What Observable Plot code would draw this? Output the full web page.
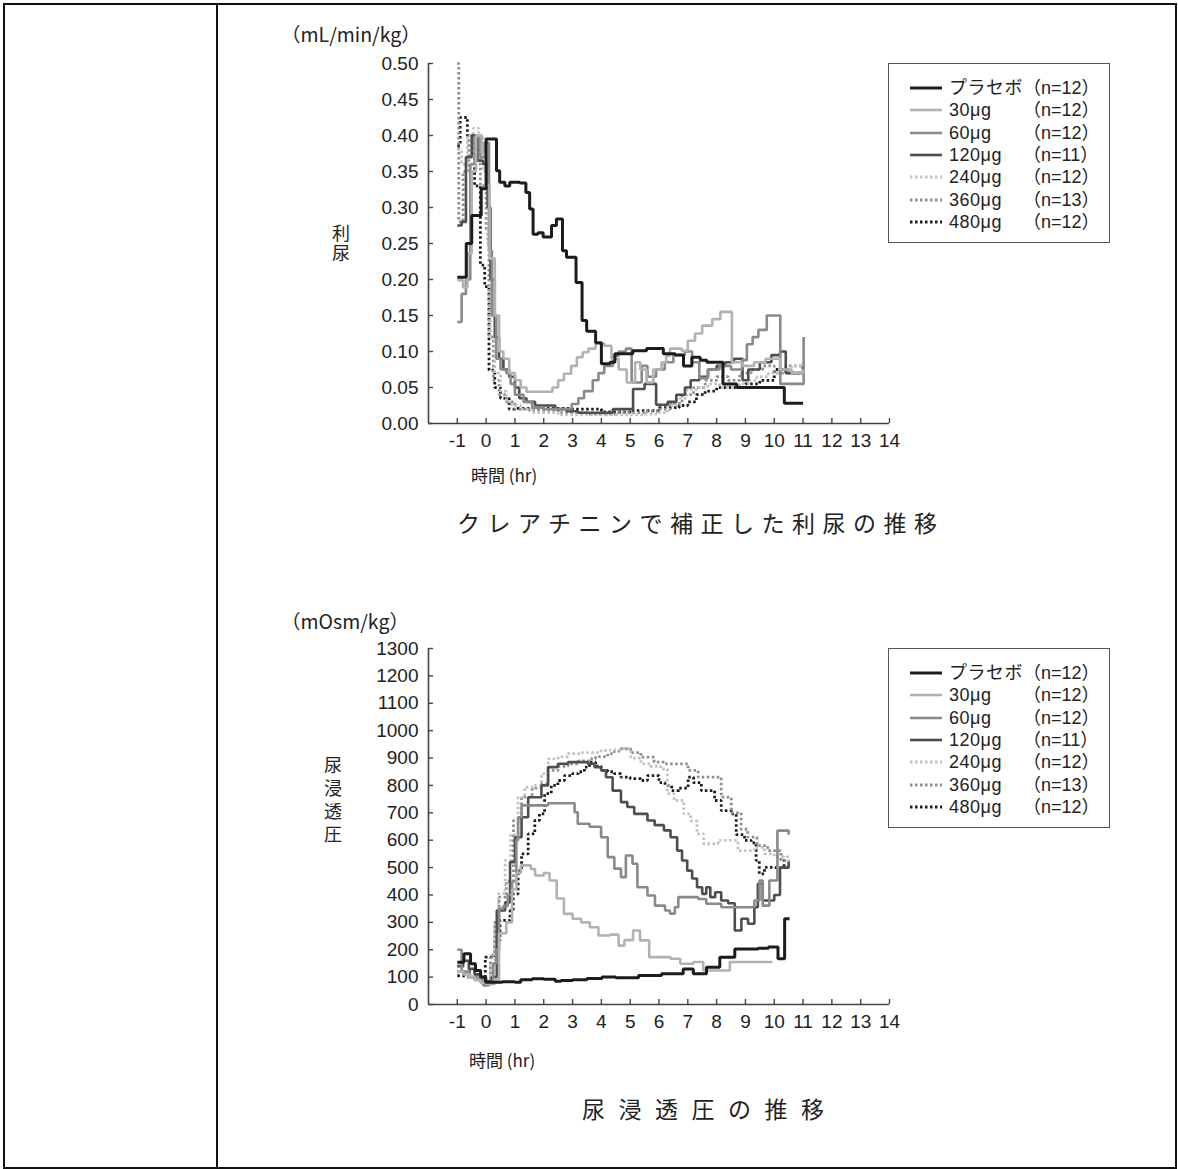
<!DOCTYPE html>
<html><head><meta charset="utf-8">
<script src="https://cdn.jsdelivr.net/npm/d3@7"></script>
<script src="https://cdn.jsdelivr.net/npm/@observablehq/plot@0.6"></script>
<style>
body{margin:0;background:#fff;}
#page{position:relative;width:1178px;height:1169px;overflow:hidden;font-family:"Noto Sans CJK JP","Noto Sans",sans-serif;color:#222;background:#fff;}
.abs{position:absolute;white-space:nowrap;}
.legend{position:absolute;border:1.5px solid #555;background:#fff;}
.lrow{position:absolute;left:0;height:20px;line-height:20px;font-size:18px;color:#222;font-family:"Liberation Sans","Noto Sans CJK JP",sans-serif;}
.lrow svg{position:absolute;left:21px;top:7px;}
.lrow .lab{position:absolute;left:60px;letter-spacing:0.5px;white-space:nowrap;}
.lrow .n{position:absolute;left:134px;font-size:18px;white-space:nowrap;}
</style></head><body><div id="page"></div>
<script>
// ---------- data ----------
const seriesNames = ["プラセボ", "30μg", "60μg", "120μg", "240μg", "360μg", "480μg"];
const seriesN = ["（n=12）", "（n=12）", "（n=12）", "（n=11）", "（n=12）", "（n=13）", "（n=12）"];
const xTicks = [-1,0,1,2,3,4,5,6,7,8,9,10,11,12,13,14];
const yTicks1 = [0,0.05,0.10,0.15,0.20,0.25,0.30,0.35,0.40,0.45,0.50];
const yTicks2 = [0,100,200,300,400,500,600,700,800,900,1000,1100,1200,1300];

// Chart 1: creatinine-corrected diuresis (mL/min/kg), [hour, value]
const diuPlacebo = [[-1.0,0.203],[-0.69,0.25],[-0.5,0.289],[-0.17,0.326],[0.0,0.395],[0.36,0.351],[0.47,0.335],[0.65,0.33],[0.82,0.335],[1.17,0.334],[1.38,0.321],[1.51,0.298],[1.63,0.263],[1.8,0.265],[1.98,0.259],[2.27,0.275],[2.44,0.284],[2.65,0.24],[2.79,0.231],[3.12,0.196],[3.33,0.143],[3.49,0.128],[3.8,0.112],[4.0,0.083],[4.3,0.085],[4.47,0.097],[5.09,0.101],[5.57,0.104],[6.15,0.097],[6.56,0.095],[6.85,0.08],[7.14,0.092],[7.43,0.088],[7.66,0.085],[8.22,0.055],[8.7,0.05],[10.35,0.028],[11.0,0.028]];
const diu30 = [[-1.0,0.199],[-0.8,0.189],[-0.65,0.236],[-0.5,0.35],[-0.35,0.40],[-0.15,0.375],[0.0,0.33],[0.12,0.229],[0.3,0.15],[0.45,0.1],[0.6,0.09],[0.8,0.07],[1.0,0.06],[1.2,0.05],[1.4,0.044],[2.3,0.05],[2.5,0.06],[2.7,0.069],[2.95,0.08],[3.15,0.092],[3.35,0.099],[3.55,0.104],[3.8,0.111],[4.1,0.108],[4.35,0.09],[4.6,0.075],[4.88,0.057],[5.17,0.085],[5.35,0.075],[5.57,0.057],[5.8,0.075],[6.09,0.085],[6.25,0.094],[6.38,0.104],[6.79,0.101],[7.0,0.115],[7.25,0.125],[7.5,0.136],[7.85,0.145],[8.13,0.155],[8.53,0.085],[8.9,0.08],[9.3,0.085],[9.7,0.09],[10.2,0.075],[10.6,0.07],[11.0,0.075]];
const diu60 = [[-1.0,0.141],[-0.85,0.18],[-0.7,0.2],[-0.55,0.36],[-0.4,0.398],[-0.2,0.37],[-0.05,0.39],[0.1,0.24],[0.2,0.15],[0.35,0.09],[0.5,0.075],[0.7,0.07],[0.85,0.055],[1.0,0.04],[1.3,0.03],[1.6,0.022],[2.0,0.02],[2.97,0.027],[3.2,0.035],[3.4,0.045],[3.7,0.06],[3.9,0.07],[4.1,0.08],[4.4,0.094],[4.6,0.1],[4.85,0.104],[5.05,0.057],[5.4,0.08],[5.6,0.065],[5.9,0.075],[6.2,0.085],[6.5,0.095],[6.9,0.1],[7.15,0.085],[7.4,0.063],[7.7,0.075],[8.1,0.08],[8.5,0.075],[8.88,0.088],[9.05,0.11],[9.25,0.12],[9.45,0.13],[9.74,0.15],[10.21,0.055],[11.02,0.12]];
const diu120 = [[-1.0,0.275],[-0.85,0.28],[-0.7,0.37],[-0.5,0.40],[-0.3,0.365],[-0.1,0.36],[0.05,0.3],[0.15,0.2],[0.3,0.12],[0.45,0.09],[0.6,0.075],[0.8,0.065],[1.0,0.05],[1.15,0.035],[1.4,0.03],[1.7,0.025],[2.0,0.025],[2.4,0.02],[2.8,0.017],[3.2,0.015],[4.4,0.02],[5.1,0.048],[5.5,0.055],[5.9,0.026],[6.3,0.03],[6.6,0.04],[6.9,0.05],[7.1,0.06],[7.4,0.065],[7.7,0.075],[8.0,0.08],[8.3,0.085],[8.6,0.09],[8.9,0.06],[9.1,0.075],[9.5,0.085],[9.9,0.095],[10.2,0.1],[10.4,0.07],[11.0,0.08]];
const diu240 = [[-1.0,0.38],[-0.85,0.36],[-0.65,0.40],[-0.45,0.41],[-0.25,0.40],[-0.1,0.35],[0.05,0.25],[0.15,0.12],[0.3,0.07],[0.5,0.045],[0.7,0.03],[0.9,0.025],[1.2,0.02],[1.6,0.015],[2.5,0.012],[3.5,0.012],[4.5,0.012],[5.5,0.013],[6.0,0.015],[6.3,0.025],[6.6,0.035],[6.97,0.047],[7.3,0.05],[7.7,0.055],[8.1,0.05],[8.5,0.05],[8.8,0.055],[9.1,0.06],[9.4,0.065],[9.8,0.07],[10.2,0.075],[10.6,0.08],[11.0,0.085]];
const diu360 = [[-1.0,0.50],[-0.95,0.28],[-0.8,0.35],[-0.6,0.40],[-0.4,0.38],[-0.2,0.33],[0.0,0.27],[0.1,0.12],[0.25,0.06],[0.45,0.04],[0.7,0.03],[1.0,0.02],[1.5,0.018],[2.5,0.015],[3.5,0.013],[4.5,0.015],[5.5,0.017],[6.0,0.02],[6.4,0.028],[6.8,0.04],[7.2,0.05],[7.6,0.06],[8.0,0.065],[8.4,0.06],[8.8,0.07],[9.2,0.075],[9.6,0.08],[10.0,0.07],[10.4,0.08],[11.0,0.08]];
const diu480 = [[-1.0,0.386],[-0.9,0.425],[-0.65,0.40],[-0.4,0.33],[-0.2,0.22],[-0.05,0.19],[0.1,0.074],[0.3,0.05],[0.5,0.035],[0.8,0.02],[1.0,0.021],[3.0,0.02],[4.0,0.016],[5.0,0.018],[6.0,0.022],[6.7,0.025],[7.0,0.03],[7.3,0.04],[7.6,0.045],[8.0,0.05],[8.5,0.05],[9.0,0.055],[9.5,0.06],[10.0,0.075],[10.5,0.07],[11.0,0.08]];

// Chart 2: urine osmolality (mOsm/kg), [hour, value]
const osmPlacebo = [[-1,154],[-0.77,185],[-0.54,149],[-0.37,124],[-0.19,100],[-0.02,81],[0.56,83],[1.0,81],[1.2,90],[1.6,94],[2.0,92],[2.4,85],[2.6,88],[3.0,90],[3.5,95],[4.02,100],[4.5,98],[5.29,106],[6.09,112],[6.84,130],[7.19,112],[7.65,136],[8.11,173],[8.63,203],[9.44,205],[9.8,210],[10.13,167],[10.36,313],[10.53,313]];
const osm30 = [[-1,120],[-0.8,110],[-0.6,100],[-0.4,90],[-0.2,80],[0.0,75],[0.3,90],[0.45,260],[0.7,300],[0.9,420],[1.05,480],[1.2,508],[1.55,495],[1.7,471],[2.0,480],[2.2,453],[2.45,387],[2.7,331],[3.0,313],[3.3,300],[3.6,282],[3.9,252],[4.3,255],[4.6,215],[4.8,235],[5.1,270],[5.34,234],[5.66,173],[6.4,167],[6.74,149],[7.2,155],[7.54,124],[8.46,155],[9.94,155]];
const osm60 = [[-1,200],[-0.85,120],[-0.6,100],[-0.3,90],[-0.1,70],[0.1,75],[0.25,150],[0.35,200],[0.45,350],[0.6,360],[0.75,400],[0.9,450],[1.05,600],[1.11,684],[1.23,727],[2.15,735],[2.72,735],[3.07,702],[3.18,660],[3.59,649],[3.99,611],[4.22,538],[4.45,496],[4.68,465],[4.85,544],[5.08,514],[5.25,428],[5.6,398],[5.86,361],[6.21,343],[6.38,332],[6.55,355],[6.67,392],[7.36,385],[7.64,368],[8.16,355],[9.31,380],[9.49,453],[9.6,361],[9.83,453],[10.11,635],[10.5,620]];
const osm120 = [[-1,140],[-0.8,160],[-0.6,130],[-0.4,110],[-0.2,90],[0.0,85],[0.2,100],[0.37,343],[0.66,373],[0.83,520],[1.0,611],[1.23,684],[1.46,757],[1.92,800],[2.15,867],[2.49,879],[2.84,885],[3.53,879],[3.76,867],[3.99,855],[4.16,830],[4.39,781],[4.68,739],[4.9,721],[5.14,696],[5.6,672],[5.85,655],[6.17,636],[6.4,611],[6.63,562],[6.8,526],[6.98,489],[7.15,460],[7.32,428],[7.5,404],[7.64,428],[7.78,392],[7.95,410],[8.16,380],[8.4,370],[8.63,270],[8.86,313],[9.09,295],[9.31,355],[9.43,441],[9.6,380],[10.0,400],[10.2,500],[10.5,520]];
const osm240 = [[-1,140],[-0.8,120],[-0.6,110],[-0.3,95],[0.0,90],[0.15,150],[0.3,300],[0.43,405],[0.66,526],[0.85,620],[1.11,757],[1.34,794],[1.6,800],[1.92,843],[2.15,897],[2.5,904],[2.84,916],[3.3,920],[3.99,928],[4.3,930],[4.68,934],[5.02,900],[5.37,879],[5.7,870],[6.06,860],[6.29,770],[6.52,745],[6.86,696],[7.1,670],[7.32,623],[7.55,587],[8.05,599],[8.74,562],[9.31,574],[9.66,550],[10.0,540],[10.46,520]];
const osm360 = [[-1,120],[-0.7,100],[-0.4,90],[-0.2,85],[0.0,95],[0.15,180],[0.3,300],[0.45,392],[0.7,450],[0.95,672],[1.23,757],[1.6,790],[1.92,806],[2.15,855],[2.5,870],[2.84,879],[3.2,890],[3.59,897],[3.8,905],[4.22,916],[4.45,925],[4.68,934],[5.02,920],[5.37,903],[5.83,885],[6.17,879],[6.67,879],[7.01,855],[7.36,830],[8.16,757],[8.51,700],[8.85,640],[9.08,611],[9.4,580],[9.77,562],[10.23,526],[10.5,500]];
const osm480 = [[-1,105],[-0.7,120],[-0.4,110],[-0.2,95],[-0.03,173],[0.31,234],[0.48,307],[0.83,343],[0.94,404],[1.11,489],[1.23,550],[1.46,623],[1.69,672],[1.85,696],[2.03,770],[2.26,800],[2.49,818],[2.72,836],[3.0,843],[3.2,850],[3.41,867],[3.59,885],[3.8,870],[3.99,855],[4.22,850],[4.45,843],[4.68,830],[5.0,825],[5.37,818],[5.6,836],[6.0,810],[6.21,800],[6.44,781],[6.7,790],[7.01,830],[7.2,810],[7.47,781],[7.93,745],[8.16,708],[8.51,696],[8.68,620],[8.97,599],[9.2,590],[9.37,526],[9.48,477],[9.66,501],[10.0,500],[10.34,540]];

const diuSeries = [diuPlacebo, diu30, diu60, diu120, diu240, diu360, diu480];
const osmSeries = [osmPlacebo, osm30, osm60, osm120, osm240, osm360, osm480];

// ---------- styles ----------
const styles = [
  {stroke:"#1c1c1c", width:3, dash:null},
  {stroke:"#b2b2b2", width:2.6, dash:null},
  {stroke:"#8a8a8a", width:2.6, dash:null},
  {stroke:"#4e4e4e", width:2.6, dash:null},
  {stroke:"#c2c2c2", width:2.8, dash:"2.5,2.5"},
  {stroke:"#8e8e8e", width:2.8, dash:"2.5,2.5"},
  {stroke:"#1c1c1c", width:2.8, dash:"2.5,2.5"}
];
const drawOrder = [6,5,4,3,2,1,0];

const page = document.getElementById("page");
function el(tag, cls, css, text){ const e=document.createElement(tag); if(cls) e.className=cls; Object.assign(e.style, css||{}); if(text!=null) e.textContent=text; page.appendChild(e); return e; }

// frame border
el("div", null, {position:"absolute", left:"3px", top:"3px", width:"1170px", height:"1162px", border:"2.5px solid #111"});
el("div", null, {position:"absolute", left:"215.5px", top:"3px", width:"2.5px", height:"1165px", background:"#111"});

function makeChart(seriesData, yDomain, yTicks, yFmt, top, mTop, mBottom){
  const tables = seriesData.map((s,i)=>s.map(([t,v])=>({t, v, series: seriesNames[i]})));
  const marks = [];
  drawOrder.forEach(i=>{
    const st = styles[i];
    marks.push(Plot.line(tables[i], {x:"t", y:"v", curve:"step-after", stroke:st.stroke, strokeWidth:st.width, strokeDasharray:st.dash, strokeLinejoin:"miter", strokeLinecap:"butt"}));
  });
  marks.push(Plot.ruleY([yDomain[0]], {stroke:"#444", strokeWidth:1.6}));
  marks.push(Plot.ruleX([-2], {stroke:"#444", strokeWidth:1.6}));
  marks.push(Plot.axisX(xTicks, {tickSize:-5, tickPadding:15, tickFormat:d=>String(d), stroke:"#444", strokeWidth:1.4, fontSize:19, fill:"#222"}));
  marks.push(Plot.axisY(yTicks, {tickSize:-5, tickPadding:15, tickFormat:yFmt, stroke:"#444", strokeWidth:1.4, fontSize:19, fill:"#222"}));
  const svg = Plot.plot({
    width:630, height:420, marginLeft:148, marginRight:21, marginTop:mTop, marginBottom:mBottom,
    x:{domain:[-2,14], label:null},
    y:{domain:yDomain, label:null},
    style:{fontFamily:"'Liberation Sans', Arial, sans-serif", fontSize:"19px", background:"transparent", color:"#222", overflow:"visible"},
    marks
  });
  svg.style.position="absolute"; svg.style.left="280px"; svg.style.top=top+"px";
  page.appendChild(svg);
}
makeChart(diuSeries, [0,0.5], yTicks1, d=>d.toFixed(2), 40, 23, 37);
makeChart(osmSeries, [0,1300], yTicks2, d=>String(d), 620, 28, 36);

function makeLegend(left, top){
  const box = el("div","legend",{left:left+"px", top:top+"px", width:"220px", height:"178px"});
  seriesNames.forEach((name,i)=>{
    const row = document.createElement("div"); row.className="lrow";
    row.style.top = (14 + i*22.3) + "px"; row.style.width="220px";
    const st = styles[i];
    row.innerHTML = `<svg width="32" height="6"><line x1="0" y1="3" x2="32" y2="3" stroke="${st.stroke}" stroke-width="${st.width}" ${st.dash?`stroke-dasharray="${st.dash}"`:""}/></svg><span class="lab">${name}</span><span class="n">${seriesN[i]}</span>`;
    box.appendChild(row);
  });
}
makeLegend(888, 63);
makeLegend(888, 648);

// texts
el("div","abs",{left:"281px", top:"19px", fontSize:"19.5px"}, "（mL/min/kg）");
el("div","abs",{left:"281px", top:"606px", fontSize:"19.5px"}, "（mOsm/kg）");
el("div","abs",{left:"331px", top:"224px", fontSize:"18px", writingMode:"vertical-rl", lineHeight:"19px", letterSpacing:"2px"}, "利尿");
el("div","abs",{left:"323px", top:"756px", fontSize:"18px", writingMode:"vertical-rl", lineHeight:"19px", letterSpacing:"5px"}, "尿浸透圧");
el("div","abs",{left:"471px", top:"462px", fontSize:"17px"}, "時間 (hr)");
el("div","abs",{left:"469px", top:"1047px", fontSize:"17px"}, "時間 (hr)");
el("div","abs",{left:"457px", top:"505px", fontSize:"23px", letterSpacing:"7.5px"}, "クレアチニンで補正した利尿の推移");
el("div","abs",{left:"582px", top:"1091px", fontSize:"23px", letterSpacing:"13.5px"}, "尿浸透圧の推移");
</script></body></html>
